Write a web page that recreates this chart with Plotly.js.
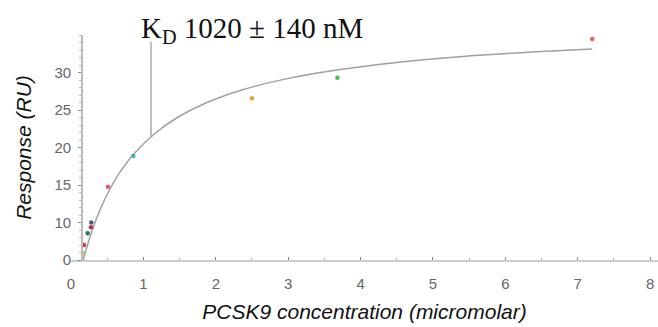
<!DOCTYPE html>
<html>
<head>
<meta charset="utf-8">
<script src="https://cdn.plot.ly/plotly-3.0.1.min.js"></script>
<style>html,body{margin:0;padding:0;background:#fff;}#chart{width:658px;height:327px;}</style>
</head>
<body>
<div id="chart"></div>
<script>
// Measured points (concentration in micromolar, response in RU)
var pointX = [0.17, 0.18, 0.23, 0.276, 0.28, 0.51, 0.86, 2.50, 3.68, 7.20];
var pointY = [5.9, 7.0, 8.56, 9.36, 10.0, 14.77, 18.87, 26.56, 29.3, 34.47];
var pointColors = ['#a8c850', '#e0304a', '#2f6e58', '#c8304a', '#4a5890', '#e05a6a', '#3fb8a8', '#e8a040', '#48c048', '#f06050'];

// Fitted binding curve
var curveX = [0.17, 0.22, 0.27, 0.37, 0.47, 0.57, 0.67, 0.87, 1.17, 1.47, 1.87, 2.37, 2.97, 3.67, 4.47, 5.37, 6.27, 7.20];
var curveY = [5.0, 6.73, 8.29, 10.96, 13.16, 15.02, 16.61, 19.17, 21.97, 24.0, 25.96, 27.70, 29.15, 30.34, 31.31, 32.09, 32.67, 33.13];

// KD marker line
var kdLineX = [1.105, 1.105];
var kdLineY = [34.1, 21.4];

var xTickVals = [0, 1, 2, 3, 4, 5, 6, 7, 8];
var xTickText = ['0', '1', '2', '3', '4', '5', '6', '7', '8'];
var yTickVals = [5, 10, 15, 20, 25, 30];
var yTickText = ['0', '10', '15', '20', '25', '30'];

var kdLabel = 'K<sub>D</sub> 1020 ± 140 nM';

var traces = [
  {x: curveX, y: curveY, mode: 'lines', line: {color: '#a0a0a0', width: 1.5, shape: 'spline'}, hoverinfo: 'skip', showlegend: false},
  {x: kdLineX, y: kdLineY, mode: 'lines', line: {color: '#aaaaaa', width: 1.5}, hoverinfo: 'skip', showlegend: false},
  {x: pointX, y: pointY, mode: 'markers', marker: {color: pointColors, size: 4.5}, showlegend: false}
];

var tickFont = {family: 'Liberation Sans, Arial, sans-serif', size: 15, color: '#666666'};
var layout = {
  width: 658, height: 327,
  margin: {l: 71, r: 0, t: 35, b: 67},
  paper_bgcolor: '#ffffff', plot_bgcolor: '#ffffff',
  showlegend: false,
  xaxis: {
    range: [0, 8.108], showgrid: false, zeroline: false,
    showline: true, linecolor: '#cccccc', linewidth: 2,
    tickvals: xTickVals, ticktext: xTickText,
    ticks: 'inside', ticklen: 3, tickcolor: '#888888', tickwidth: 1,
    ticklabelstandoff: 9,
    minor: {dtick: 0.5, ticks: 'inside', ticklen: 2, tickcolor: '#aaaaaa'},
    tickfont: tickFont,
    title: {text: '<i>PCSK9 concentration (micromolar)</i>', font: {family: 'Liberation Sans, Arial, sans-serif', size: 21, color: '#111111'}, standoff: 13}
  },
  yaxis: {
    range: [5, 35], showgrid: false, zeroline: false,
    anchor: 'free', position: 0.0172,
    showline: true, linecolor: '#bbbbbb', linewidth: 1.5,
    tickvals: yTickVals, ticktext: yTickText,
    ticks: 'outside', ticklen: 3, tickcolor: '#888888', tickwidth: 1,
    ticklabelstandoff: 4,
    minor: {dtick: 1, ticks: 'outside', ticklen: 2, tickcolor: '#bbbbbb'},
    tickfont: tickFont,
    title: {text: '<i>Response (RU)</i>', font: {family: 'Liberation Sans, Arial, sans-serif', size: 21, color: '#111111'}, standoff: 15}
  },
  annotations: [{
    text: kdLabel, xref: 'paper', yref: 'paper', x: (252 - 71) / 587, y: 1 + (35 - 30) / 225,
    xanchor: 'center', yanchor: 'middle', showarrow: false,
    font: {family: 'Liberation Serif, Times New Roman, serif', size: 29, color: '#111111'}
  }]
};

Plotly.newPlot('chart', traces, layout, {displayModeBar: false, staticPlot: true});
</script>
</body>
</html>
